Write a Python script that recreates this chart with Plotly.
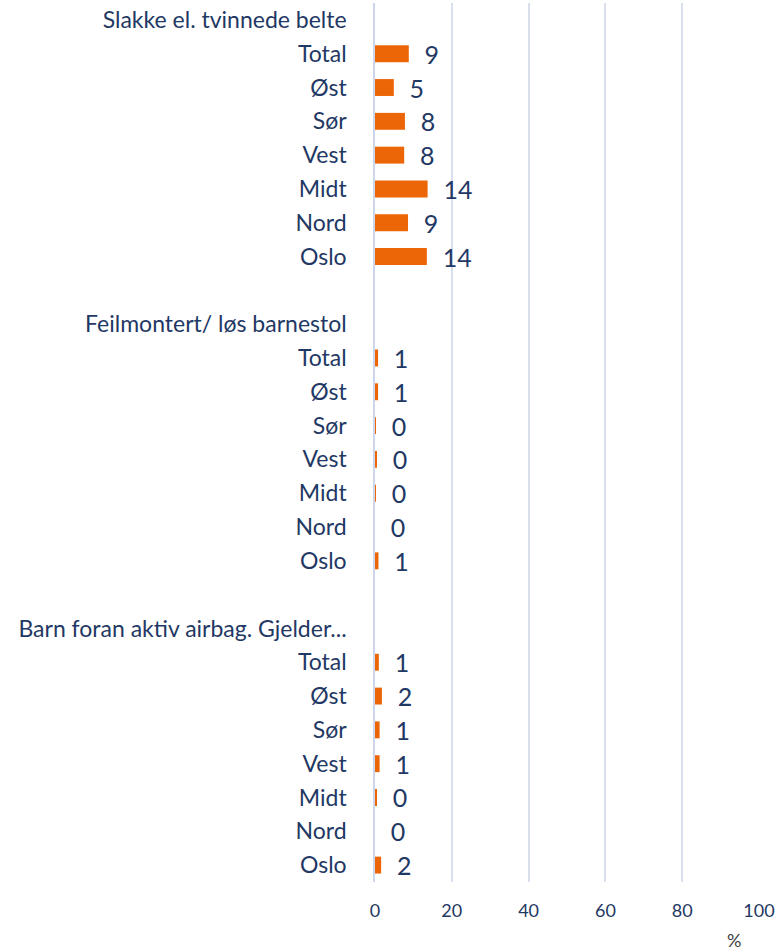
import plotly.graph_objects as go

regions = ["Total", "Øst", "Sør", "Vest", "Midt", "Nord", "Oslo"]
groups = ["Slakke el. tvinnede belte", "Feilmontert/ løs barnestol", "Barn foran aktiv airbag. Gjelder..."]
values_belte = [8.8, 4.9, 7.8, 7.6, 13.7, 8.6, 13.5]
values_barnestol = [0.8, 0.8, 0.2, 0.4, 0.2, 0.0, 0.9]
values_airbag = [1.0, 1.8, 1.2, 1.2, 0.3, 0.0, 1.6]
series = [values_belte, values_barnestol, values_airbag]
x_ticks = [0, 20, 40, 60, 80, 100]

ys, xs, ticktexts, tickvals = [], [], [], []
row = 0
for gi, (g, vals) in enumerate(zip(groups, series)):
    tickvals.append(row); ticktexts.append(g)
    row += 1
    for r, v in zip(regions, vals):
        tickvals.append(row); ticktexts.append(r)
        ys.append(row); xs.append(v)
        row += 1
    if gi < len(groups) - 1:
        row += 1
nrows = row

navy = "#1F3864"
fig = go.Figure(go.Bar(
    x=xs, y=ys, orientation="h", width=0.5,
    marker=dict(color="#EC6608", line=dict(width=0)),
    texttemplate="  %{x:.0f}", textposition="outside", cliponaxis=False,
    constraintext="none",
    textfont=dict(family="Lato", size=25, color=navy),
))
fig.update_layout(
    width=778, height=951, plot_bgcolor="white", paper_bgcolor="white",
    margin=dict(l=375, r=16, t=3, b=69), showlegend=False,
    font=dict(family="Lato", color=navy),
    annotations=[dict(text="%", xref="paper", yref="paper", x=0.935, y=-0.066,
                      showarrow=False, font=dict(family="Lato", size=18, color="#404040"),
                      xanchor="center", yanchor="middle")],
)
fig.update_xaxes(range=[0, 100], tickvals=x_ticks, showgrid=True, gridcolor="#D9DFEC", gridwidth=1.5,
                 zeroline=False, ticks="outside", ticklen=12, tickcolor="rgba(0,0,0,0)",
                 tickfont=dict(family="Lato", size=18, color=navy), showline=False)
fig.update_yaxes(range=[nrows - 0.5, -0.5], tickvals=tickvals, ticktext=ticktexts, showgrid=False,
                 zeroline=False, ticks="outside", ticklen=22, tickcolor="rgba(0,0,0,0)",
                 showline=True, linecolor="#CCD5EA", linewidth=1.5,
                 tickfont=dict(family="Lato", size=23, color=navy))
fig.write_html("out.html", config={"displayModeBar": False},
               post_script="document.body.style.margin='0';")
